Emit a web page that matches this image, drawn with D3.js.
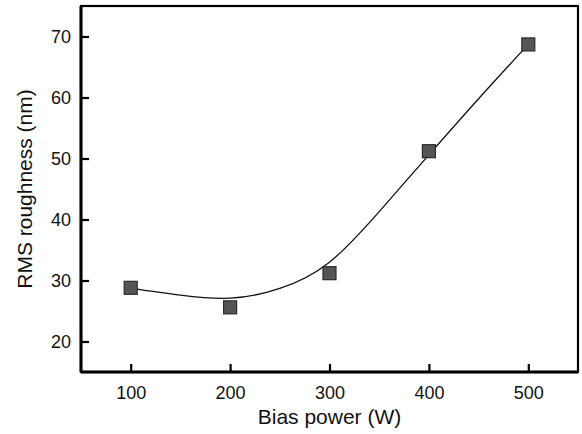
<!DOCTYPE html>
<html>
<head>
<meta charset="utf-8">
<script src="https://cdn.jsdelivr.net/npm/d3@7"></script>
<style>
  body { margin: 0; background: #fff; }
  svg { display: block; font-family: "Liberation Sans", Arial, sans-serif; }
</style>
</head>
<body>
<div id="chart"></div>
<script>
// measured points
const biasPower = [100, 200, 300, 400, 500];
const roughness = [28.8, 25.6, 31.2, 51.2, 68.7];

// fitted curve
const fitPower = [100, 150, 200, 250, 300, 350, 400, 450, 500];
const fitRoughness = [28.7, 27.6, 27.1, 28.7, 33.0, 41.3, 50.6, 59.8, 68.7];

const xTicks = [100, 200, 300, 400, 500];
const yTicks = [20, 30, 40, 50, 60, 70];

const width = 582, height = 434;
const margin = {top: 6, right: 4, bottom: 62, left: 81};
const innerW = width - margin.left - margin.right;
const innerH = height - margin.top - margin.bottom;

const svg = d3.select("#chart").append("svg")
    .attr("width", width)
    .attr("height", height);

const g = svg.append("g")
    .attr("transform", "translate(" + margin.left + "," + margin.top + ")");

const x = d3.scaleLinear().domain([50, 550]).range([0, innerW]);
const y = d3.scaleLinear().domain([15, 75]).range([innerH, 0]);

// bottom axis, ticks pointing inward
const xAxis = g.append("g")
    .attr("transform", "translate(0," + innerH + ")")
    .call(d3.axisBottom(x).tickValues(xTicks).tickSizeInner(-8).tickSizeOuter(0).tickPadding(14));

const yAxis = g.append("g")
    .call(d3.axisLeft(y).tickValues(yTicks).tickSizeInner(-8).tickSizeOuter(0).tickPadding(10));

[xAxis, yAxis].forEach(function(ax){
    ax.select(".domain").remove();
    ax.selectAll(".tick line").attr("stroke", "#000").attr("stroke-width", 2.2);
    ax.selectAll(".tick text")
        .attr("fill", "#111")
        .style("font-size", "18px")
        .style("font-family", "Liberation Sans, Arial, sans-serif");
});

// frame
g.append("rect")
    .attr("x", 0)
    .attr("y", 0)
    .attr("width", innerW)
    .attr("height", innerH)
    .attr("fill", "none")
    .attr("stroke", "#000")
    .attr("stroke-width", 2.2);
g.append("line")
    .attr("x1", 0).attr("x2", 0).attr("y1", 0).attr("y2", innerH)
    .attr("stroke", "#000").attr("stroke-width", 3);
g.append("line")
    .attr("x1", 0).attr("x2", innerW).attr("y1", innerH).attr("y2", innerH)
    .attr("stroke", "#000").attr("stroke-width", 3);

// fit line
const line = d3.line()
    .x(function(d, i){ return x(fitPower[i]); })
    .y(function(d){ return y(d); })
    .curve(d3.curveNatural);

g.append("path")
    .datum(fitRoughness)
    .attr("fill", "none")
    .attr("stroke", "#111")
    .attr("stroke-width", 1.3)
    .attr("d", line);

// markers
const size = 13;
g.selectAll("rect.pt")
    .data(roughness)
    .enter()
    .append("rect")
    .attr("class", "pt")
    .attr("x", function(d, i){ return x(biasPower[i]) - size / 2; })
    .attr("y", function(d){ return y(d) - size / 2; })
    .attr("width", size)
    .attr("height", size)
    .attr("fill", "#555")
    .attr("stroke", "#2b2b2b")
    .attr("stroke-width", 1.2);

// axis titles
svg.append("text")
    .text("Bias power (W)")
    .attr("x", margin.left + innerW / 2)
    .attr("y", 424)
    .attr("text-anchor", "middle")
    .attr("fill", "#111")
    .style("font-size", "21px");

svg.append("text")
    .text("RMS roughness (nm)")
    .attr("text-anchor", "middle")
    .attr("transform", "translate(32," + (margin.top + innerH / 2) + ") rotate(-90)")
    .attr("fill", "#111")
    .style("font-size", "21px");
</script>
</body>
</html>
